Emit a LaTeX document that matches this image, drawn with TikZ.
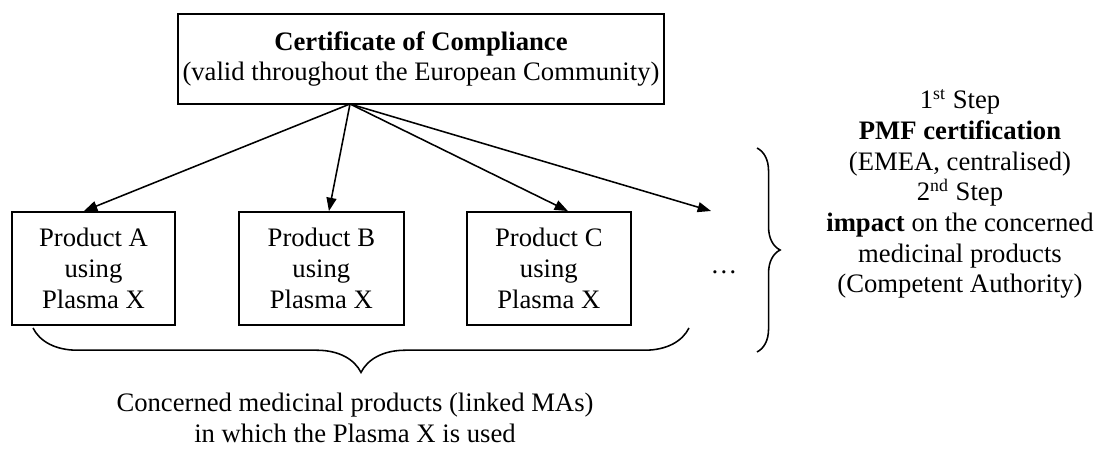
\documentclass[tikz,border=0pt]{standalone}
\usepackage{fontspec}
\setmainfont{Liberation Serif}
\usepackage{tikz}
\usetikzlibrary{calc, shapes, arrows.meta, positioning, decorations.pathreplacing}

\tikzset{
ramka/.style={draw, line width=0.8pt, align=center, inner sep=0pt},
strzalka/.style={-{Triangle[length=6pt,width=4.5pt]}, line width=0.7pt},
klamra/.style={decorate, decoration={brace, amplitude=#1}, line width=0.7pt}
}

\begin{document}
\begin{tikzpicture}[x=0.45pt, y=-0.45pt, font=\fontsize{12}{13.8}\selectfont]
\useasboundingbox (0,0) rectangle (1099,449);
\node[ramka, minimum width=218.7pt, minimum height=40.5pt](certyfikat) at (421,59){
\textbf{Certificate of Compliance}\\
(valid throughout the European Community)
};
\node[ramka, minimum width=73.4pt, minimum height=50.9pt](produktA) at (93.5,268.5){Product A\\using\\Plasma X};
\node[ramka, minimum width=74.3pt, minimum height=50.9pt, right=27.9pt of produktA](produktB){Product B\\using\\Plasma X};
\node[ramka, minimum width=73.8pt, minimum height=50.9pt, right=27.5pt of produktB](produktC){Product C\\using\\Plasma X};
\node[anchor=base](kropki) at (724,274){\dots};
\coordinate (zrodlo) at (350,104);
\coordinate (dalej) at (711,211);
\path[draw, strzalka](zrodlo) -- ([xshift=-4.3pt]produktA.north);
\path[draw, strzalka](zrodlo) -- ([xshift=3.4pt]produktB.north);
\path[draw, strzalka](zrodlo) -- ([xshift=8.6pt]produktC.north);
\path[draw, strzalka](zrodlo) -- (dalej);
% klamry
\draw[klamra=20pt] (689,328) -- (33,328);
\draw[klamra=10.4pt] (757,148) -- (757,352);
\node[align=center, anchor=north, inner sep=0pt](opis) at (355,393){
Concerned medicinal products (linked MAs)\\
in which the Plasma X is used
};
\node[align=center, inner sep=0pt](kroki) at (960,194){
1\textsuperscript{st} Step\\
\textbf{PMF certification}\\
(EMEA, centralised)\\
2\textsuperscript{nd} Step\\
\textbf{impact} on the concerned\\
medicinal products\\
(Competent Authority)
};
\end{tikzpicture}
\end{document}
